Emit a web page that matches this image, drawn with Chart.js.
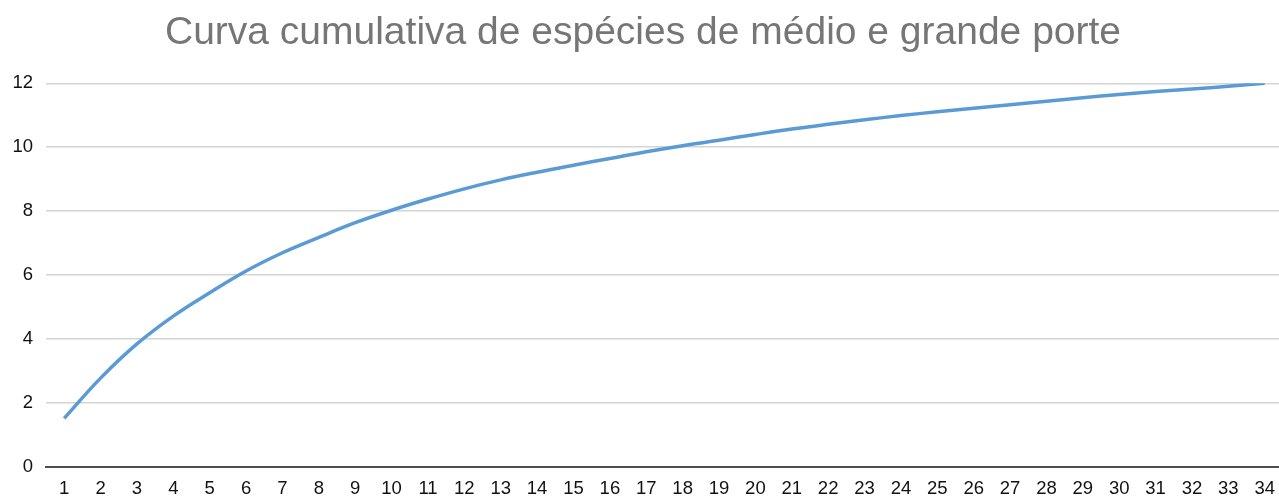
<!DOCTYPE html>
<html>
<head>
<meta charset="utf-8">
<script src="https://cdn.jsdelivr.net/npm/chart.js@4/dist/chart.umd.min.js"></script>
<style>
    html, body { margin: 0; padding: 0; background: #fff; overflow: hidden; }
    #wrap { position: relative; width: 1286px; height: 498px; }
</style>
</head>
<body>
<div id="wrap"><canvas id="chart"></canvas></div>
<script>
// ===== Data =====
const categories = ["1","2","3","4","5","6","7","8","9","10","11","12","13","14","15","16","17",
    "18","19","20","21","22","23","24","25","26","27","28","29","30","31","32","33","34"];
const especies = [1.52, 2.78, 3.85, 4.72, 5.45, 6.13, 6.70, 7.18, 7.64, 8.03, 8.38, 8.70, 8.98, 9.22,
    9.44, 9.65, 9.86, 10.05, 10.22, 10.40, 10.57, 10.72, 10.86, 10.99, 11.11, 11.22, 11.33, 11.44,
    11.55, 11.65, 11.74, 11.82, 11.91, 12.0];
const yTicks = [0, 2, 4, 6, 8, 10, 12];
const title = "Curva cumulativa de espécies de médio e grande porte";

const tickFont = { family: "'Liberation Sans', Arial, sans-serif", size: 18.5 };

new Chart(document.getElementById("chart"), {
    type: "line",
    data: {
        labels: categories,
        datasets: [{
            data: especies,
            borderColor: "#5B9BD5",
            borderWidth: 3.5,
            pointRadius: 0,
            fill: false,
            tension: 0.4
        }]
    },
    options: {
        responsive: true,
        maintainAspectRatio: false,
        animation: false,
        layout: { padding: { left: 0, right: 0, top: 0, bottom: 0 } },
        plugins: {
            legend: { display: false },
            tooltip: { enabled: false },
            title: {
                display: true,
                text: title,
                color: "#767676",
                font: { family: "'Liberation Sans', Arial, sans-serif", size: 39, weight: "normal", lineHeight: 1.2 },
                padding: { top: 10, bottom: 26.5 }
            }
        },
        scales: {
            x: {
                offset: true,
                grid: { display: false, drawTicks: false },
                border: { display: true, color: "#4d4d4d", width: 2 },
                ticks: { color: "#111", font: tickFont, padding: 11, maxRotation: 0, autoSkip: false },
                afterFit: (s) => { s.height = 31; }
            },
            y: {
                min: 0,
                max: 12,
                afterBuildTicks: (s) => { s.ticks = yTicks.map(v => ({ value: v })); },
                grid: { color: "#d4d4d4", lineWidth: 1.5, drawTicks: false },
                border: { display: false },
                ticks: { color: "#111", font: tickFont, padding: 13 },
                afterFit: (s) => { s.width = 46; }
            }
        }
    }
});
</script>
</body>
</html>
